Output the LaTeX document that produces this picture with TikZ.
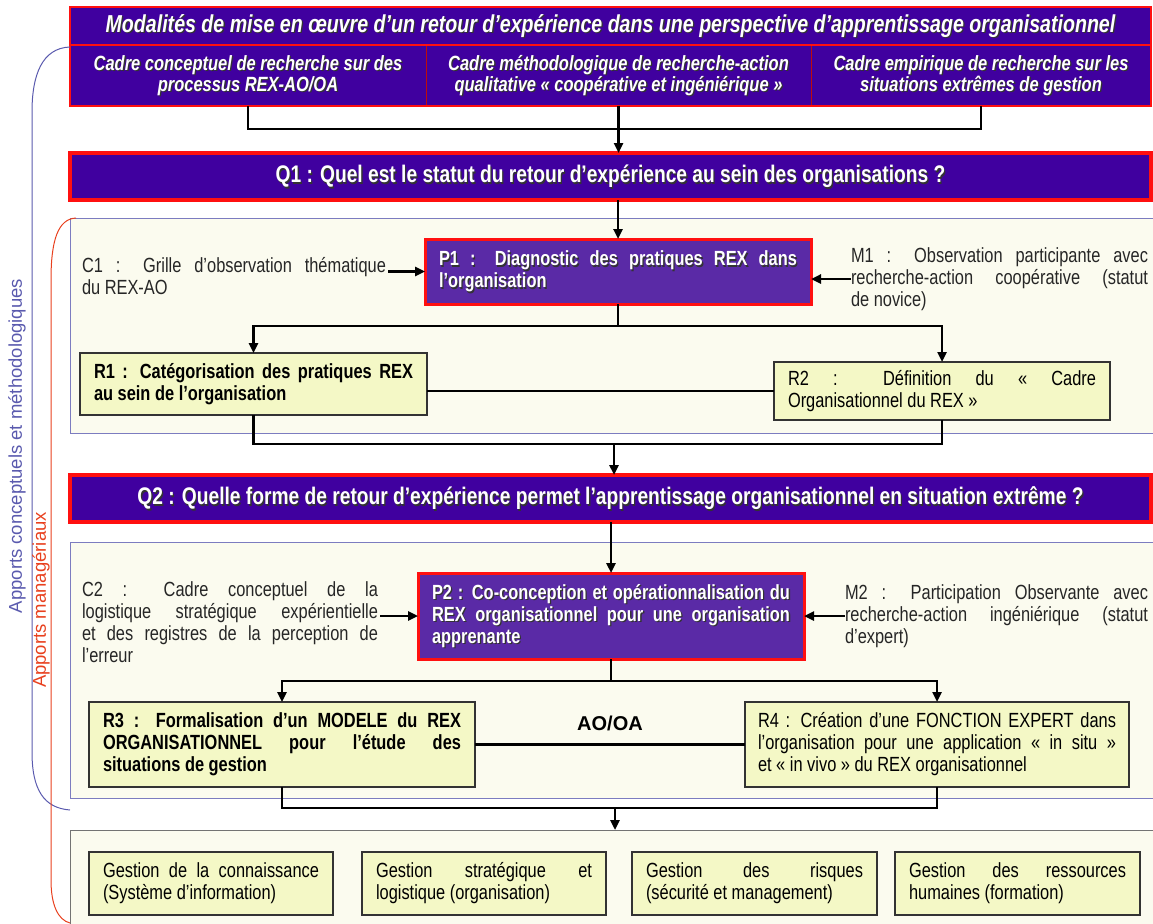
\documentclass[tikz,border=0pt]{standalone}
\usepackage{fontspec}
\setmainfont{Liberation Sans}
\newfontfamily\narrowfont{Liberation Sans}[FakeStretch=0.8]
\usetikzlibrary{arrows.meta}

\definecolor{deepindigo}{HTML}{40009F}
\definecolor{violetbox}{HTML}{5A2AA6}
\definecolor{framered}{HTML}{FF1010}
\definecolor{panelcream}{HTML}{FBFBEF}
\definecolor{panelline}{HTML}{7C7CC0}
\definecolor{resultfill}{HTML}{F4F8C6}
\definecolor{bracketblue}{HTML}{5A5AAE}
\definecolor{bracketred}{HTML}{E8401E}

\newcommand\txtbody{\narrowfont\fontsize{20.5}{22}\selectfont}
\newcommand\txtbold{\narrowfont\bfseries\fontsize{20.5}{22}\selectfont}
\newcommand\txthead{\narrowfont\bfseries\itshape\fontsize{20.6}{21}\selectfont}

% white text with a dark drop shadow
\newcommand\shadowed[4]{%
  \node[#3, text=black!80] (#1-sh) at ([xshift=1.3pt,yshift=-1.3pt]#2) {#4};
  \node[#3, text=white] (#1) at (#2) {#4};}

\begin{document}
\begin{tikzpicture}[x=1pt,y=-1pt,
  every node/.style={inner sep=0pt, outer sep=0pt},
  hdrcell/.style={anchor=north west, fill=deepindigo, draw=framered!75!black, line width=0.8pt},
  qbar/.style={anchor=north west, fill=deepindigo, draw=framered, line width=3.5pt},
  pbox/.style={anchor=north west, fill=violetbox, draw=framered, line width=3pt},
  panel/.style={anchor=north west, fill=panelcream, draw=panelline, line width=0.9pt},
  rbox/.style={anchor=north west, fill=resultfill, draw=black!80, line width=2pt,
    inner xsep=14pt, align=justify, font=\txtbody},
  boldtext/.style={font=\txtbold},
  note/.style={anchor=west, align=justify, font=\txtbody, text=black!85},
  hdrtext/.style={align=center, font=\txthead},
  qtext/.style={font=\narrowfont\bfseries\fontsize{24}{26}\selectfont},
  ptext/.style={align=justify, font=\txtbold},
  conn/.style={draw=black, line width=2.4pt, line join=miter},
  arr/.style={conn, -{Triangle[length=10pt,width=9pt]}},
  bracket/.style={line width=1pt}
]
\useasboundingbox (0,0) rectangle (1153,923);

% ---------- header ----------
\node[hdrcell, draw=framered, line width=1.5pt, minimum width=1081pt, minimum height=38pt] (title) at (70,7) {};
\node[hdrcell, minimum width=356pt, minimum height=61pt] (cA) at (70,45) {};
\node[hdrcell, minimum width=385pt, minimum height=61pt] (cB) at (426,45) {};
\node[hdrcell, minimum width=340pt, minimum height=61pt] (cC) at (811,45) {};
\draw[framered, line width=1.5pt] (cA.north west) rectangle (cC.south east);

\shadowed{titleT}{title.center}{font=\narrowfont\bfseries\itshape\fontsize{24.5}{26}\selectfont}{Modalités de mise en œuvre d’un retour d’expérience dans une perspective d’apprentissage organisationnel}
\shadowed{cAT}{cA.center}{hdrtext}{Cadre conceptuel de recherche sur des\\processus REX-AO/OA}
\shadowed{cBT}{cB.center}{hdrtext}{Cadre méthodologique de recherche-action\\qualitative « coopérative et ingéniérique »}
\shadowed{cCT}{cC.center}{hdrtext}{Cadre empirique de recherche sur les\\situations extrêmes de gestion}

% ---------- Q1 ----------
\node[qbar, minimum width=1081pt, minimum height=47pt] (q1) at (70,153) {};
\shadowed{q1T}{q1.center}{qtext}{Q1 : Quel est le statut du retour d’expérience au sein des organisations ?}

\draw[conn] (cA.south) -- ++(0,23) -| (cC.south);
\draw[arr] (cB.south) -- (cB.south |- q1.north);

% ---------- panel 1 ----------
\node[panel, minimum width=1100pt, minimum height=215pt] (pan1) at (70,218) {};

\node[pbox, minimum width=386pt, minimum height=65pt] (p1) at (425,239) {};
\shadowed{p1T}{p1.center}{ptext, text width=358pt}{P1 : Diagnostic des pratiques REX dans\linebreak l’organisation}

\node[note, text width=304pt] (c1) at (82,276) {C1 : Grille d’observation thématique\linebreak du REX-AO};
\node[note, text width=297pt] (m1) at (851,279) {M1 : Observation participante avec\linebreak recherche-action coopérative (statut\linebreak de novice)};

\node[rbox, boldtext, text width=319pt, minimum height=62pt] (r1) at (80,353) {R1 : Catégorisation des pratiques REX\linebreak au sein de l’organisation};
\node[rbox, text width=308pt, minimum height=58pt] (r2) at (774,362) {R2 : Définition du « Cadre\linebreak Organisationnel du REX »};

\draw[arr] (p1.north |- q1.south) -- (p1.north);
\draw[arr, shorten <=2pt] (c1.east |- p1.west) -- (p1.west);
\draw[arr] (m1.west) -- (m1.west -| p1.east);
\draw[conn] (p1.south) -- ++(0,22) coordinate (fork1);
\draw[arr] (fork1) -| (r1.north);
\draw[arr] (fork1) -| (r2.north);
\draw[conn] (r2.west -| r1.east) -- (r2.west);

% ---------- Q2 ----------
\node[qbar, minimum width=1081pt, minimum height=47pt] (q2) at (70,475) {};
\shadowed{q2T}{q2.center}{qtext}{Q2 : Quelle forme de retour d’expérience permet l’apprentissage organisationnel en situation extrême ?}

\coordinate (join1) at (614,444);
\draw[conn] (r1.south) |- (join1) -| (r2.south);
\draw[arr] (join1) -- (join1 |- q2.north);

% ---------- panel 2 ----------
\node[panel, minimum width=1100pt, minimum height=256pt] (pan2) at (70,542) {};

\node[pbox, minimum width=386pt, minimum height=86pt] (p2) at (418,573) {};
\shadowed{p2T}{p2.center}{ptext, text width=358pt}{P2 : Co-conception et opérationnalisation du\linebreak REX organisationnel pour une organisation\linebreak apprenante}

\node[note, text width=296pt] (c2) at (82,622) {C2 : Cadre conceptuel de la\linebreak logistique stratégique expérientielle\linebreak et des registres de la perception de\linebreak l’erreur};
\node[note, text width=303pt] (m2) at (845,616) {M2 : Participation Observante avec\linebreak recherche-action ingéniérique (statut\linebreak d’expert)};

\node[rbox, boldtext, text width=358pt, minimum height=85pt] (r3) at (89,702) {R3 : Formalisation d’un MODELE du REX\linebreak ORGANISATIONNEL pour l’étude des\linebreak situations de gestion};
\node[rbox, inner xsep=13pt, text width=358pt, minimum height=85pt] (r4) at (745,702) {R4 : Création d’une FONCTION EXPERT dans\linebreak l’organisation pour une application « in situ »\linebreak et « in vivo » du REX organisationnel};

\node[font=\bfseries\fontsize{20}{20}\selectfont] (aooa) at (610,723) {AO/OA};

\draw[arr] (p2.north |- q2.south) -- (p2.north);
\draw[arr, shorten <=2pt] (c2.east |- p2.west) -- (p2.west);
\draw[arr] (m2.west) -- (m2.west -| p2.east);
\draw[conn] (p2.south) -- ++(0,22) coordinate (fork2);
\draw[arr] (fork2) -| (r3.north);
\draw[arr] (fork2) -| (r4.north);
\draw[conn] (r4.west -| r3.east) -- (r4.west);

% ---------- management outputs ----------
\node[panel, draw=black!55, minimum width=1100pt, minimum height=120pt] (pan3) at (70,830) {};

\coordinate (join2) at (615,808);
\draw[conn] (r3.south) |- (join2) -| (r4.south);
\draw[arr] (join2) -- (join2 |- pan3.north);

\node[rbox, text width=216pt, minimum height=63pt] (g1) at (89,852) {Gestion de la connaissance\linebreak (Système d’information)};
\node[rbox, text width=216pt, minimum height=63pt] (g2) at (362,852) {Gestion stratégique et\linebreak logistique (organisation)};
\node[rbox, text width=217pt, minimum height=63pt] (g3) at (632,852) {Gestion des risques\linebreak (sécurité et management)};
\node[rbox, text width=217pt, minimum height=63pt] (g4) at (895,852) {Gestion des ressources\linebreak humaines (formation)};

% ---------- side brackets ----------
\draw[bracket, bracketblue] (70,47) .. controls (42,48) and (32,75) .. (32,112) -- (32,752) .. controls (32,790) and (44,808) .. (70,810);
\draw[bracket, bracketred] (76,218) .. controls (58,219) and (51,240) .. (51,280) -- (51,880) .. controls (51,905) and (58,920) .. (70,923);
\node[rotate=90, text=bracketblue, font=\fontsize{18.5}{18.5}\selectfont] (lblA) at (17,446) {Apports conceptuels et méthodologiques};
\node[rotate=90, text=bracketred, font=\fontsize{18.5}{18.5}\selectfont] (lblB) at (41,600) {Apports managériaux};
\end{tikzpicture}
\end{document}
